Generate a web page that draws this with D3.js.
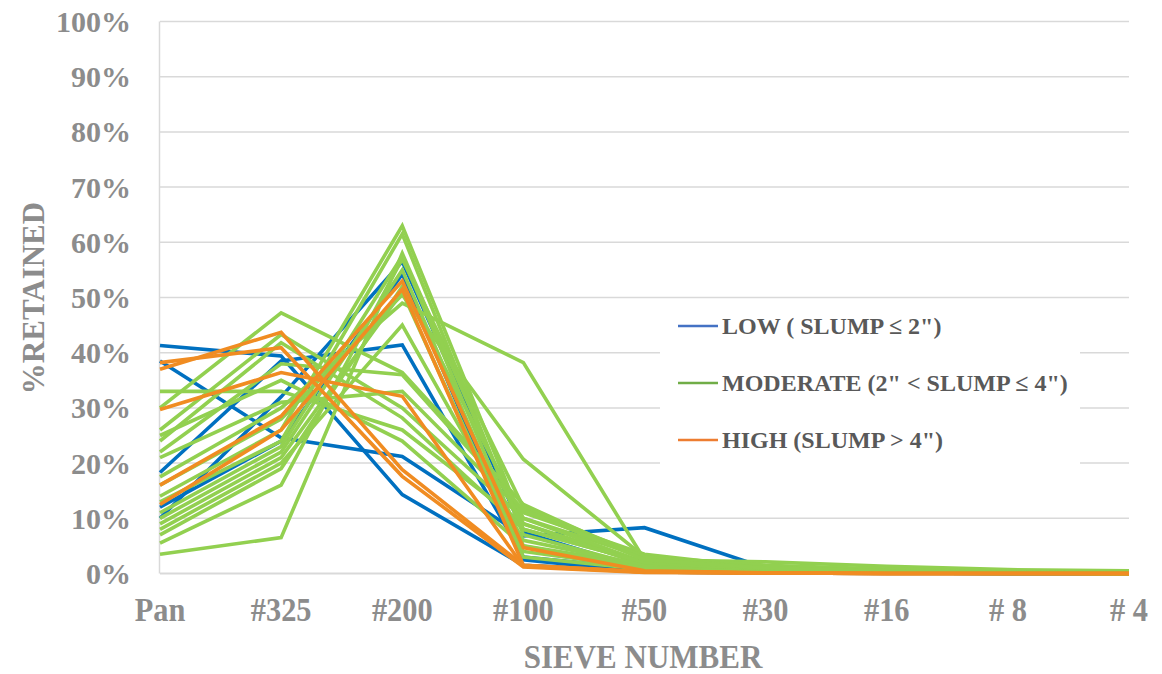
<!DOCTYPE html>
<html>
<head>
<meta charset="utf-8">
<script src="https://cdn.jsdelivr.net/npm/d3@7"></script>
<style>
  body { margin: 0; background: #fff; }
  svg text { font-family: "Liberation Serif", "Times New Roman", serif; font-weight: bold; }
</style>
</head>
<body>
<svg id="chart" width="1162" height="674"></svg>
<script>
// sieve sizes along the x axis
var categories = ["Pan", "#325", "#200", "#100", "#50", "#30", "#16", "# 8", "# 4"];
var yTicks = [0, 10, 20, 30, 40, 50, 60, 70, 80, 90, 100];

// % retained, one row per mix
var lowSeries = [
    [41.3, 39.4, 14.3, 1.5, 0.5, 0.2, 0.1, 0.0, 0.0],
    [38.5, 24.6, 21.2, 6.8, 8.3, 1.0, 0.3, 0.1, 0.0],
    [18.3, 38.5, 41.4, 3.0, 0.8, 0.3, 0.1, 0.0, 0.0],
    [10.0, 32.0, 56.5, 7.5, 0.7, 0.2, 0.1, 0.0, 0.0],
    [12.0, 24.0, 54.2, 2.5, 0.3, 0.1, 0.0, 0.0, 0.0]
];
var moderateSeries = [
    [33.0, 33.0, 26.0, 9.0, 2.0, 0.5, 0.3, 0.1, 0.0],
    [30.0, 47.2, 36.4, 12.5, 2.5, 1.0, 0.5, 0.2, 0.1],
    [26.0, 43.3, 30.0, 10.0, 3.0, 0.8, 0.4, 0.1, 0.0],
    [24.0, 41.8, 28.2, 8.0, 2.0, 0.6, 0.3, 0.1, 0.0],
    [21.0, 31.0, 33.0, 11.0, 3.5, 1.0, 0.3, 0.1, 0.0],
    [17.5, 30.0, 49.0, 38.2, 2.5, 2.1, 1.3, 0.7, 0.5],
    [16.0, 28.0, 50.5, 20.7, 3.0, 1.5, 0.8, 0.3, 0.2],
    [14.0, 26.0, 63.0, 9.0, 1.5, 0.5, 0.2, 0.1, 0.0],
    [13.0, 24.0, 61.5, 7.0, 1.2, 0.5, 0.2, 0.1, 0.0],
    [11.0, 23.0, 57.5, 5.0, 1.5, 0.6, 0.3, 0.1, 0.0],
    [10.0, 22.0, 55.0, 4.0, 1.0, 0.4, 0.2, 0.1, 0.0],
    [9.0, 21.0, 51.0, 3.0, 0.8, 0.3, 0.1, 0.0, 0.0],
    [8.0, 20.0, 45.0, 6.0, 1.5, 0.5, 0.2, 0.1, 0.0],
    [7.0, 19.0, 52.0, 10.0, 2.0, 0.8, 0.4, 0.2, 0.1],
    [5.5, 16.0, 57.0, 12.0, 3.0, 1.0, 0.5, 0.2, 0.1],
    [3.5, 6.5, 58.0, 8.0, 2.0, 0.7, 0.3, 0.1, 0.0],
    [25.0, 35.0, 24.0, 5.0, 1.0, 0.3, 0.1, 0.0, 0.0],
    [22.0, 38.0, 36.0, 11.5, 2.5, 1.0, 0.5, 0.2, 0.1]
];
var highSeries = [
    [37.0, 43.7, 18.8, 1.5, 0.3, 0.1, 0.0, 0.0, 0.0],
    [38.2, 40.9, 17.6, 1.2, 0.2, 0.1, 0.0, 0.0, 0.0],
    [29.7, 36.4, 32.1, 1.3, 0.3, 0.1, 0.0, 0.0, 0.0],
    [16.0, 28.5, 53.0, 4.7, 0.5, 0.1, 0.0, 0.0, 0.0],
    [12.5, 26.0, 51.5, 1.5, 0.3, 0.1, 0.0, 0.0, 0.0]
];
var legendLabels = ["LOW ( SLUMP \u2264 2\")", "MODERATE (2\" < SLUMP \u2264 4\")", "HIGH (SLUMP > 4\")"];

var lineColors = ["#0070c0", "#92d050", "#f08c22"];
var legendColors = ["#4472c4", "#70ad47", "#ed7d31"];

var svg = d3.select("#chart");

var x = d3.scalePoint()
    .domain(categories)
    .range([160, 1129]);

var y = d3.scaleLinear()
    .domain([0, 100])
    .range([573.5, 21.5]);

// gridlines
svg.append("g")
    .selectAll("line")
    .data(yTicks)
    .enter().append("line")
    .attr("x1", 160)
    .attr("x2", 1129)
    .attr("y1", function(d) { return y(d); })
    .attr("y2", function(d) { return y(d); })
    .attr("stroke", "#d9d9d9")
    .attr("stroke-width", function(d) { return d == 0 ? 2 : 1.5; });

// value axis line
svg.append("line")
    .attr("x1", 159.5).attr("x2", 159.5)
    .attr("y1", y(100)).attr("y2", y(0))
    .attr("stroke", "#d9d9d9")
    .attr("stroke-width", 1.5);

// y tick labels
svg.append("g")
    .selectAll("text")
    .data(yTicks)
    .enter().append("text")
    .attr("x", 131)
    .attr("y", function(d) { return y(d); })
    .attr("dy", "0.35em")
    .attr("text-anchor", "end")
    .attr("fill", "#8c8c8c")
    .style("font-size", "30px")
    .text(function(d) { return d + "%"; });

// x tick labels
svg.append("g")
    .selectAll("text")
    .data(categories)
    .enter().append("text")
    .attr("transform", function(d) { return "translate(" + x(d) + ",621) scale(0.92,1.04)"; })
    .attr("text-anchor", "middle")
    .attr("fill", "#8c8c8c")
    .style("font-size", "33px")
    .text(function(d) { return d; });

// axis titles
svg.append("text")
    .attr("transform", "translate(643,668) scale(0.94,1.04)")
    .attr("text-anchor", "middle")
    .attr("fill", "#8c8c8c")
    .style("font-size", "33px")
    .text("SIEVE NUMBER");

svg.append("text")
    .attr("transform", "translate(44,298) rotate(-90)")
    .attr("text-anchor", "middle")
    .attr("fill", "#8c8c8c")
    .style("font-size", "31px")
    .text("%RETAINED");

var line = d3.line()
    .x(function(d, i) { return x(categories[i]); })
    .y(function(d) { return y(d); });

var groups = [lowSeries, moderateSeries, highSeries];

groups.forEach(function(rows, gi) {
    svg.append("g")
        .selectAll("path")
        .data(rows)
        .enter().append("path")
        .attr("d", line)
        .attr("fill", "none")
        .attr("stroke", lineColors[gi])
        .attr("stroke-width", 3.6)
        .attr("stroke-linejoin", "miter");
});

// legend box sits over the gridlines
var legend = svg.append("g");
legend.append("rect")
    .attr("x", 660).attr("y", 300)
    .attr("width", 420).attr("height", 170)
    .attr("fill", "#fff");

var leg = legend.selectAll("g.item")
    .data(legendLabels)
    .enter().append("g")
    .attr("class", "item")
    .attr("transform", function(d, i) { return "translate(0," + (326 + i * 57) + ")"; });

leg.append("line")
    .attr("x1", 678).attr("x2", 718)
    .attr("stroke", function(d, i) { return legendColors[i]; })
    .attr("stroke-width", 2.5);

leg.append("text")
    .attr("x", 722)
    .attr("dy", "0.35em")
    .attr("fill", "#595959")
    .style("font-size", "24px")
    .text(function(d) { return d; });
</script>
</body>
</html>
